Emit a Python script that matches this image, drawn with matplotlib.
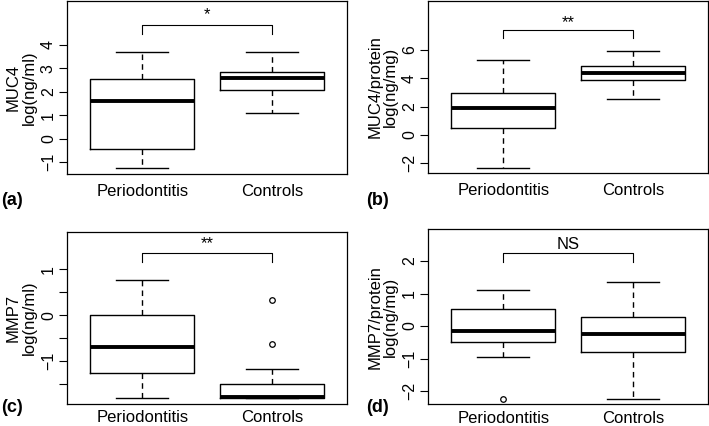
import matplotlib
matplotlib.use('Agg')
import matplotlib.pyplot as plt

plt.rcParams['font.family'] = ['Liberation Sans', 'DejaVu Sans']

groups = ['Periodontitis', 'Controls']

# five-number summaries: whisker low, q1, median, q3, whisker high
muc4_perio = [-1.27, -0.45, 1.62, 2.53, 3.7]
muc4_ctrl = [1.1, 2.05, 2.6, 2.82, 3.7]
muc4p_perio = [-2.3, 0.5, 1.9, 2.95, 5.3]
muc4p_ctrl = [2.55, 3.9, 4.4, 4.85, 5.95]
mmp7_perio = [-1.79, -1.25, -0.7, 0.0, 0.76]
mmp7_ctrl = [-1.79, -1.79, -1.77, -1.5, -1.17]
mmp7p_perio = [-0.96, -0.5, -0.14, 0.51, 1.12]
mmp7p_ctrl = [-2.25, -0.79, -0.25, 0.28, 1.36]

# outliers
mmp7_ctrl_out = [0.33, -0.62]
mmp7p_perio_out = [-2.25]

labels_sig = ['*', '**', '**', 'NS']
ylabels = ['MUC4\nlog(ng/ml)', 'MUC4/protein\nlog(ng/mg)',
           'MMP7\nlog(ng/ml)', 'MMP7/protein\nlog(ng/mg)']
panel_tags = ['(a)', '(b)', '(c)', '(d)']


def stats(five, fliers=()):
    return {'whislo': five[0], 'q1': five[1], 'med': five[2],
            'q3': five[3], 'whishi': five[4], 'fliers': list(fliers)}


panels = [
    [stats(muc4_perio), stats(muc4_ctrl)],
    [stats(muc4p_perio), stats(muc4p_ctrl)],
    [stats(mmp7_perio), stats(mmp7_ctrl, mmp7_ctrl_out)],
    [stats(mmp7p_perio, mmp7p_perio_out), stats(mmp7p_ctrl)],
]

ylims = [(-1.51, 5.86), (-2.68, 9.46), (-1.93, 1.81), (-2.41, 2.98)]
yticks = [[-1, 0, 1, 2, 3, 4], [-2, 0, 2, 4, 6],
          [-1.5, -1, -0.5, 0, 0.5, 1], [-2, -1, 0, 1, 2]]
ytlabels = [['−1', '0', '1', '2', '3', '4'], ['−2', '0', '2', '4', '6'],
            ['', '−1', '', '0', '', '1'], ['−2', '−1', '0', '1', '2']]
# bracket: height of bar, bottom of legs, text position
brackets = [(4.85, 4.47, 5.3), (7.42, 6.83, 7.9),
            (1.35, 1.16, 1.56), (2.26, 1.98, 2.5)]

positions = [[0.0945, 0.5915, 0.395, 0.406], [0.6037, 0.594, 0.395, 0.404],
             [0.0945, 0.0516, 0.395, 0.404], [0.6037, 0.0509, 0.395, 0.411]]
tag_xy = [(0.002, 0.53), (0.517, 0.53), (0.002, 0.043), (0.517, 0.043)]
xpads = [7.5, 7.5, 4.5, 4.5]

fig = plt.figure(figsize=(7.09, 4.26), dpi=100)

for i in range(4):
    ax = fig.add_axes(positions[i])
    ax.bxp(panels[i], positions=[1, 2], widths=0.8, showfliers=True,
           boxprops=dict(color='black', linewidth=1.0),
           medianprops=dict(color='black', linewidth=2.8, solid_capstyle='butt'),
           whiskerprops=dict(color='black', linewidth=1.0, linestyle=(0, (4, 3))),
           capprops=dict(color='black', linewidth=1.0),
           capwidths=0.4,
           flierprops=dict(marker='o', markersize=4, markerfacecolor='none',
                           markeredgecolor='black', markeredgewidth=0.9))
    ax.set_xlim(0.42, 2.58)
    ax.set_ylim(*ylims[i])
    ax.set_yticks(yticks[i])
    ax.set_yticklabels(ytlabels[i], rotation=90, va='center', fontsize=11.5)
    ax.set_xticks([1, 2])
    ax.set_xticklabels(groups, fontsize=12)
    ax.tick_params(axis='x', length=0, pad=xpads[i])
    ax.tick_params(axis='y', length=6, width=0.8, pad=2)
    ax.set_ylabel(ylabels[i], fontsize=12, linespacing=1.05, labelpad=3)
    for s in ax.spines.values():
        s.set_linewidth(0.9)

    top, leg, txt = brackets[i]
    ax.plot([1, 1, 2, 2], [leg, top, top, leg], color='black', linewidth=0.8)
    ax.text(1.5, txt, labels_sig[i], ha='center', va='center', fontsize=12)

    fig.text(tag_xy[i][0], tag_xy[i][1], panel_tags[i], fontsize=13,
             fontweight='bold', ha='left', va='center')

fig.savefig('out.png', dpi=100)
